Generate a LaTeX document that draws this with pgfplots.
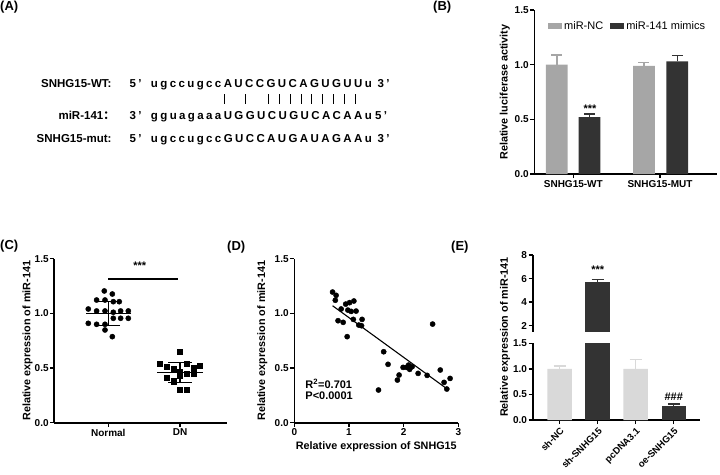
\documentclass[border=0pt]{standalone}
\usepackage{fontspec}
\setmainfont{Liberation Sans}
\newfontfamily\cjk{Noto Sans CJK SC}
\usepackage{pgfplots}
\pgfplotsset{compat=1.18}
\definecolor{grayB}{RGB}{166,166,166}
\definecolor{darkB}{RGB}{51,51,51}
\definecolor{lightE}{RGB}{217,217,217}
\makeatletter
\newlength\lsp \setlength\lsp{2.4pt}
\newcommand\spaced[1]{\@tfor\sp@c:=#1\do{\sp@c\kern\lsp}\unkern}
\makeatother
\pgfplotsset{prism/.style={
  scale only axis, axis lines*=left,
  axis line style={line width=1.6pt},
  tick style={line width=1.4pt, black},
  major tick length=4pt, tick align=outside,
  /pgf/number format/assume math mode=true,
  tick label style={font=\bfseries\fontsize{10}{12}\selectfont},
  label style={font=\bfseries\fontsize{10.8}{13}\selectfont},
  yticklabel style={inner sep=1.5pt, /pgf/number format/fixed, /pgf/number format/fixed zerofill, /pgf/number format/precision=1},
  xticklabel style={inner sep=2pt},
}}
\begin{document}
\begin{tikzpicture}
\useasboundingbox (0pt,0pt) rectangle (720pt,-474pt);
% panel labels
\foreach \t/\x/\y in {(A)/0/-1,(B)/433/-1,(C)/0/-240,(D)/227/-241,(E)/451/-241}
  \node[anchor=north west, inner sep=0pt, font=\bfseries\fontsize{13}{15}\selectfont] at (\x pt,\y pt) {\t};
% panel A
\begin{scope}[every node/.style={inner sep=0pt, font=\bfseries\fontsize{11.5}{13}\selectfont}]
\node[anchor=base east] at (111.7pt,-87.3pt) {SNHG15-WT:};
\node[anchor=base west] at (129.3pt,-87.3pt) {\spaced{5'}};
\node[anchor=base west] at (150.7pt,-87.3pt) {\spaced{ugccugccAUCCGUCAGUGUUu}};
\node[anchor=base west] at (377.3pt,-87.3pt) {\spaced{3'}};
\node[anchor=base east] at (115pt,-119pt) {miR-141{\cjk ：}};
\node[anchor=base west] at (129.3pt,-119pt) {\spaced{3'}};
\node[anchor=base west] at (150.7pt,-119pt) {\spaced{gguagaaaUGGUCUGUCACAAu}};
\node[anchor=base west] at (375pt,-119pt) {\spaced{5'}};
\node[anchor=base east] at (111.7pt,-142.3pt) {SNHG15-mut:};
\node[anchor=base west] at (129.3pt,-142.3pt) {\spaced{5'}};
\node[anchor=base west] at (150.7pt,-142.3pt) {\spaced{ugccugccGUCCAUGAUAGAAu}};
\node[anchor=base west] at (377.3pt,-142.3pt) {\spaced{3'}};
\end{scope}
\foreach \x in {224,245.7,268.3,279.3,290,301,311.7,322.7,333.3,344.3,355}
  \draw[line width=0.9pt] (\x pt,-94.3pt) -- (\x pt,-104pt);
% panel B
\begin{axis}[prism, at={(534.3pt,-174pt)}, anchor=south west, width=182.4pt, height=164pt,
  xmin=-0.45, xmax=1.654, ymin=0, ymax=1.5, ytick={0,0.5,1,1.5},
  xtick={0,1}, xticklabels={SNHG15-WT,SNHG15-MUT},
  ylabel={Relative luciferase activity},
  ylabel style={at={(axis description cs:-0.161,0.5)}, anchor=center},
  legend columns=2,
  legend style={draw=none, fill=none, at={(axis description cs:0.075,0.902)}, anchor=west, inner sep=0pt,
    font=\fontsize{11}{13}\selectfont, /tikz/every even column/.append style={column sep=5pt}},
  ]
\addplot[ybar, bar width=21.7pt, fill=grayB, draw=none,
  legend image code/.code={\fill[grayB] (0pt,-3.3pt) rectangle (14pt,3.3pt);},
  error bars/.cd, y dir=plus, y explicit, error bar style={line width=1.4pt, draw=grayB},
  error mark options={rotate=90, mark size=5.5pt, line width=1.4pt, draw=grayB}]
  coordinates {(-0.19,1.0) +- (0,0.09) (0.815,0.99) +- (0,0.03)};
\addplot[ybar, bar width=21.7pt, fill=darkB, draw=none,
  legend image code/.code={\fill[darkB] (0pt,-3.3pt) rectangle (14pt,3.3pt);},
  error bars/.cd, y dir=plus, y explicit, error bar style={line width=1.4pt, draw=darkB},
  error mark options={rotate=90, mark size=5.5pt, line width=1.4pt, draw=darkB}]
  coordinates {(0.187,0.52) +- (0,0.03) (1.20,1.03) +- (0,0.055)};
\legend{miR-NC,miR-141 mimics}
\node[font=\bfseries\fontsize{11}{13}\selectfont] at (axis cs:0.193,0.601) {***};
\end{axis}
% panel C
\begin{axis}[prism, at={(54.3pt,-422.7pt)}, anchor=south west, width=172.4pt, height=164pt, clip=false,
  xmin=-0.753, xmax=1.651, ymin=0, ymax=1.5, ytick={0,0.5,1,1.5},
  xtick={0,1}, xticklabels={Normal,DN},
  ylabel={Relative expression of miR-141},
  ylabel style={at={(axis description cs:-0.155,0.5)}, anchor=center},
  ]
\addplot[only marks, mark=*, mark size=2.6pt, black] coordinates {
 (-0.056,1.205) (0.056,1.177) (-0.163,1.122) (-0.046,1.122) (0.07,1.107) (0.153,1.107)
 (-0.279,1.04) (-0.163,1.022) (-0.046,1.022) (0.07,1.01) (0.172,1.022) (0.279,1.022)
 (0.07,0.955) (0.172,0.955) (0.279,0.955) (-0.279,0.909) (-0.163,0.9) (-0.046,0.9)
 (-0.046,0.848) (0.056,0.787)};
\addplot[only marks, mark=square*, mark size=2.6pt, black] coordinates {
 (1,0.65) (0.72,0.54) (1.093,0.54) (1.28,0.52) (0.814,0.51) (1.186,0.50) (0.907,0.49)
 (1,0.47) (1.093,0.45) (1.186,0.45) (1,0.43) (0.814,0.41) (0.907,0.38) (1,0.30) (1.093,0.30)};
\addplot[only marks, mark=-, mark size=22.7pt, mark options={line width=1.4pt}, black,
  error bars/.cd, y dir=both, y explicit, error bar style={line width=1.4pt},
  error mark options={rotate=90, mark size=11.7pt, line width=1.4pt}]
  coordinates {(0,1.0) +- (0,0.11) (1,0.46) +- (0,0.09)};
\addplot[line width=1.6pt, black, no marks] coordinates {(0,1.314) (0.977,1.314)};
\node[font=\bfseries\fontsize{11}{13}\selectfont] at (axis cs:0.44,1.44) {***};
\end{axis}
% panel D
\begin{axis}[prism, at={(294.3pt,-422.7pt)}, anchor=south west, width=164pt, height=164pt,
  xmin=0, xmax=3, ymin=0, ymax=1.5, ytick={0,0.5,1,1.5}, xtick={0,1,2,3},
  xticklabel style={/pgf/number format/precision=0},
  ylabel={Relative expression of miR-141},
  ylabel style={at={(axis description cs:-0.195,0.5)}, anchor=center},
  xlabel={Relative expression of SNHG15},
  xlabel style={at={(axis description cs:0.5,0)}, yshift=-24.3pt, anchor=center},
  ]
\addplot[only marks, mark=*, mark size=2.6pt, black] coordinates {
 (0.70,1.195) (0.765,1.165) (0.75,1.12) (0.857,1.04) (0.94,1.085) (1.01,1.098) (1.09,1.113)
 (1.04,1.018) (0.98,1.03) (1.13,1.021) (0.80,0.933) (0.894,0.918) (1.08,0.945) (1.24,0.945)
 (1.18,0.893) (1.23,0.887) (0.967,0.787) (1.635,0.649) (1.715,0.534) (2.53,0.902)
 (1.917,0.436) (1.886,0.39) (1.54,0.299) (1.99,0.506) (2.05,0.506) (2.09,0.527) (2.11,0.488)
 (2.155,0.512) (2.265,0.451) (2.43,0.433) (2.67,0.482) (2.74,0.369) (2.79,0.308) (2.85,0.405)};
\addplot[line width=1.1pt, black, no marks] coordinates {(0.7,1.07) (2.82,0.30)};
\node[anchor=west, inner sep=0pt, font=\bfseries\fontsize{11}{13}\selectfont] at (axis cs:0.2,0.354) {R\textsuperscript{2}=0.701};
\node[anchor=west, inner sep=0pt, font=\bfseries\fontsize{11}{13}\selectfont] at (axis cs:0.2,0.25) {P<0.0001};
\end{axis}
% panel E upper
\begin{axis}[prism, at={(532.7pt,-331.6pt)}, anchor=south west, width=167.3pt, height=76.6pt,
  axis x line=none, axis y line*=left,
  xmin=-0.71, xmax=3.69, ymin=1.5, ymax=8, ytick={2,4,6,8},
  yticklabel style={/pgf/number format/precision=0, /pgf/number format/fixed zerofill=false},
  ]
\addplot[ybar, bar width=24.5pt, fill=darkB, draw=none,
  error bars/.cd, y dir=plus, y explicit, error bar style={line width=1.4pt, draw=darkB},
  error mark options={rotate=90, mark size=6pt, line width=1.4pt, draw=darkB}]
  coordinates {(1,5.7) +- (0,0.2)};
\node[font=\bfseries\fontsize{11}{13}\selectfont] at (axis cs:1,6.73) {***};
\end{axis}
% panel E lower
\begin{axis}[prism, at={(532.7pt,-420pt)}, anchor=south west, width=167.3pt, height=76.7pt,
  xmin=-0.71, xmax=3.69, ymin=0, ymax=1.5, ytick={0,0.5,1,1.5},
  xtick={0,1,2,3}, xticklabels={sh-NC,sh-SNHG15,pcDNA3.1,oe-SNHG15},
  xticklabel style={rotate=45, anchor=north east, font=\bfseries\fontsize{9.5}{11}\selectfont},
  ]
\addplot[ybar, bar width=24.5pt, fill=lightE, draw=none,
  error bars/.cd, y dir=plus, y explicit, error bar style={line width=1.4pt, draw=lightE},
  error mark options={rotate=90, mark size=6pt, line width=1.4pt, draw=lightE}]
  coordinates {(0,1.0) +- (0,0.06) (2,1.0) +- (0,0.18)};
\addplot[ybar, bar width=24.5pt, fill=darkB, draw=none] coordinates {(1,5.7)};
\addplot[ybar, bar width=24.5pt, fill=darkB, draw=none,
  error bars/.cd, y dir=plus, y explicit, error bar style={line width=1.4pt, draw=darkB},
  error mark options={rotate=90, mark size=6pt, line width=1.4pt, draw=darkB}]
  coordinates {(3,0.27) +- (0,0.04)};
\node[font=\bfseries\fontsize{11}{13}\selectfont] at (axis cs:3,0.456) {\#\#\#};
\end{axis}
\node[rotate=90, font=\bfseries\fontsize{10.8}{13}\selectfont] at (505pt,-337pt) {Relative expression of miR-141};
\end{tikzpicture}
\end{document}
